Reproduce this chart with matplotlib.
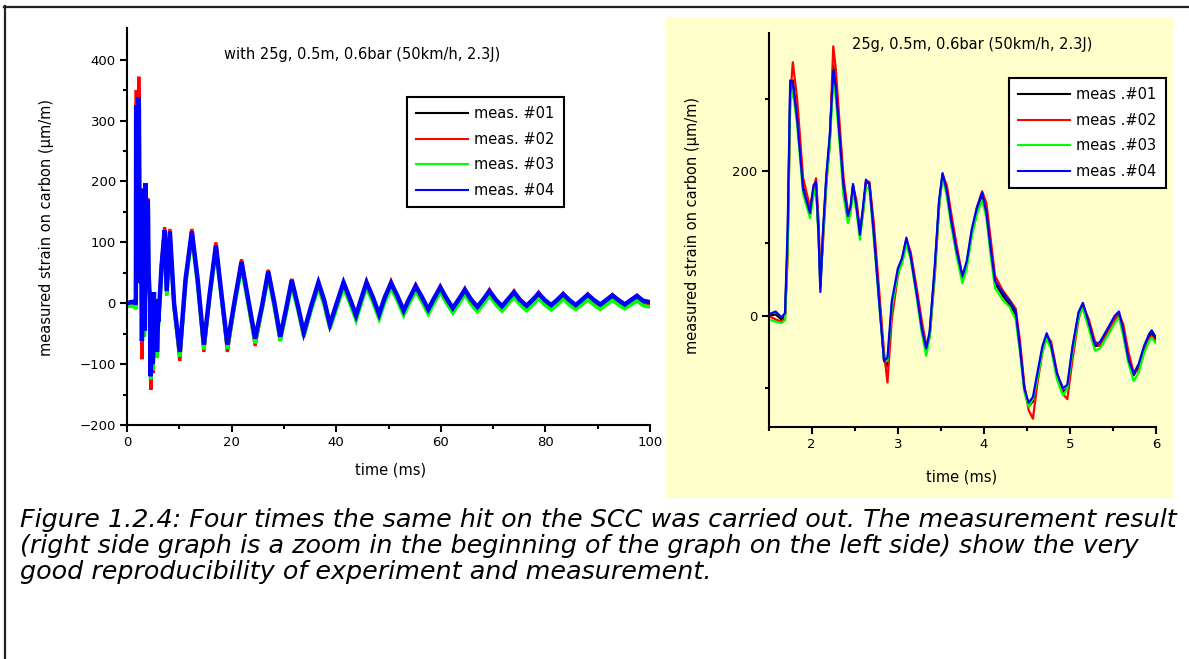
import matplotlib
matplotlib.use("Agg")
import matplotlib.pyplot as plt
from matplotlib.ticker import MultipleLocator, FixedLocator
from matplotlib.lines import Line2D
from matplotlib.patches import Rectangle

# ---------------- data ----------------
series_colors = ["black", "red", "#00ff00", "blue"]
labels_left = ["meas. #01", "meas. #02", "meas. #03", "meas. #04"]
labels_right = ["meas .#01", "meas .#02", "meas .#03", "meas .#04"]
title_left = "with 25g, 0.5m, 0.6bar (50km/h, 2.3J)"
title_right = "25g, 0.5m, 0.6bar (50km/h, 2.3J)"
ylabel_text = "measured strain on carbon (\u00b5m/m)"
xlabel_text = "time (ms)"
caption_lines = [
    "Figure 1.2.4: Four times the same hit on the SCC was carried out. The measurement result",
    "(right side graph is a zoom in the beginning of the graph on the left side) show the very",
    "good reproducibility of experiment and measurement.",
]

# first 6 ms (ms)
t_early = [0.0, 0.8, 1.5, 1.58, 1.65, 1.69, 1.72, 1.75, 1.78, 1.83,
           1.90, 1.98, 2.02, 2.05, 2.08, 2.10, 2.13, 2.17, 2.21, 2.25,
           2.28, 2.33, 2.37, 2.42, 2.45, 2.48, 2.52, 2.56, 2.60, 2.63,
           2.67, 2.72, 2.78, 2.84, 2.88, 2.93, 3.00, 3.05, 3.10, 3.15,
           3.22, 3.28, 3.33, 3.37, 3.43, 3.48, 3.52, 3.57, 3.62, 3.68,
           3.75, 3.80, 3.86, 3.92, 3.98, 4.03, 4.08, 4.13, 4.22, 4.30,
           4.37, 4.42, 4.47, 4.52, 4.57, 4.62, 4.68, 4.73, 4.78, 4.85,
           4.92, 4.97, 5.03, 5.10, 5.15, 5.22, 5.29, 5.35, 5.45, 5.52,
           5.57, 5.62, 5.68, 5.74, 5.80, 5.86, 5.92, 5.95, 6.00]

early_01 = [0, 0, 0, 2, -5, 0, 100, 315, 325, 275,
            178, 140, 175, 182, 112, 40, 110, 190, 245, 345,
            318, 240, 178, 138, 146, 180, 152, 114, 150, 185,
            182, 118, 28, -62, -70, 15, 60, 78, 104, 82,
            32, -18, -48, -25, 64, 156, 195, 170, 130, 90,
            52, 70, 115, 145, 165, 140, 90, 45, 28, 15,
            2, -45, -100, -125, -118, -85, -46, -28, -42, -84,
            -105, -100, -46, 2, 14, -12, -42, -40, -18, -4,
            2, -22, -62, -82, -70, -46, -28, -24, -33]
early_02 = [0, 0, 0, -5, -8, -3, 80, 300, 350, 300,
            190, 150, 175, 190, 130, 50, 100, 180, 240, 372,
            340, 255, 190, 145, 148, 178, 160, 118, 145, 185,
            185, 130, 40, -50, -92, -5, 55, 78, 105, 88,
            38, -8, -40, -30, 55, 150, 195, 180, 142, 100,
            55, 70, 115, 150, 172, 155, 105, 55, 35, 22,
            10, -35, -95, -130, -142, -95, -50, -28, -35, -78,
            -108, -115, -60, -5, 15, -5, -35, -42, -20, -5,
            3, -12, -50, -78, -75, -50, -32, -28, -35]
early_03 = [-5, -5, -5, -8, -10, -6, 90, 295, 310, 265,
            168, 135, 165, 178, 105, 45, 105, 185, 235, 325,
            300, 228, 165, 128, 140, 172, 145, 105, 145, 178,
            175, 108, 22, -60, -62, 10, 58, 72, 98, 78,
            25, -25, -55, -30, 60, 150, 192, 165, 125, 85,
            45, 65, 110, 140, 160, 135, 82, 38, 22, 12,
            -5, -50, -105, -125, -115, -88, -50, -32, -45, -88,
            -110, -100, -50, -2, 10, -18, -48, -45, -25, -10,
            -2, -28, -65, -90, -78, -52, -35, -30, -38]
early_04 = [0, 2, 2, 6, -2, 4, 120, 325, 322, 272,
            175, 142, 180, 185, 110, 33, 115, 195, 250, 338,
            315, 238, 178, 138, 150, 182, 150, 112, 155, 188,
            182, 115, 25, -62, -58, 20, 65, 80, 108, 82,
            30, -18, -45, -22, 70, 160, 197, 172, 132, 92,
            55, 75, 120, 150, 170, 142, 92, 48, 32, 20,
            6, -45, -100, -120, -112, -80, -42, -24, -40, -80,
            -100, -95, -42, 5, 18, -10, -40, -36, -15, 0,
            6, -20, -60, -80, -66, -42, -25, -20, -30]

# 6 ms to 100 ms (turning points of the decaying oscillation)
t_late = [6.6, 7.2, 7.6, 8.2, 9.0, 10.1, 11.2, 12.4, 13.5, 14.7,
          15.8, 17.0, 18.0, 19.2, 20.5, 21.9, 23.2, 24.5, 25.8, 27.0,
          28.2, 29.3, 30.4, 31.5, 32.7, 33.8, 35.2, 36.6, 37.7, 38.8,
          40.1, 41.4, 42.6, 43.8, 44.8, 45.8, 47.0, 48.2, 49.3, 50.5,
          51.7, 52.9, 54.0, 55.2, 56.4, 57.6, 58.7, 59.9, 61.1, 62.3,
          63.4, 64.6, 65.8, 67.0, 68.1, 69.3, 70.5, 71.7, 72.8, 74.0,
          75.2, 76.4, 77.5, 78.7, 79.9, 81.1, 82.2, 83.4, 84.6, 85.8,
          86.9, 88.1, 89.3, 90.5, 91.6, 92.8, 94.0, 95.2, 96.3, 97.5,
          98.7, 99.9]

late_01 = [58, 115, 15, 115, -3, -82, 36, 114, 36, -70,
           12, 92, 16, -70, -3, 65, 2, -60, -8, 50,
           -3, -57, -12, 36, -8, -50, -8, 32, 2, -36,
           -3, 32, 5, -22, 5, 32, 7, -20, 7, 31,
           9, -14, 5, 26, 7, -12, 5, 24, 5, -10,
           3, 20, 3, -8, 3, 18, 3, -7, 3, 16,
           2, -6, 2, 14, 2, -5, 2, 13, 2, -5,
           2, 12, 2, -4, 2, 11, 2, -4, 2, 10,
           1, -1]
late_02 = [65, 125, 15, 122, -5, -95, 35, 122, 35, -80,
           10, 100, 15, -80, -5, 72, 0, -70, -10, 55,
           -5, -62, -15, 40, -10, -55, -10, 36, 0, -40,
           -5, 36, 5, -25, 5, 36, 8, -24, 8, 36,
           10, -16, 6, 30, 8, -14, 6, 28, 6, -12,
           4, 24, 4, -10, 4, 22, 4, -9, 4, 20,
           3, -8, 3, 18, 3, -7, 3, 16, 3, -7,
           3, 15, 3, -6, 3, 14, 3, -6, 3, 13,
           2, -2]
late_03 = [50, 105, 12, 108, -8, -88, 30, 108, 30, -76,
           8, 85, 12, -75, -8, 58, -3, -66, -12, 42,
           -8, -62, -18, 28, -12, -55, -12, 25, -3, -42,
           -8, 25, 0, -28, 0, 25, 2, -26, 2, 25,
           4, -20, 0, 20, 2, -18, 0, 18, 0, -16,
           -2, 14, -2, -14, -2, 12, -2, -13, -2, 10,
           -3, -12, -3, 8, -3, -11, -3, 7, -3, -10,
           -3, 6, -3, -10, -3, 5, -3, -9, -3, 4,
           -4, -6]
late_04 = [60, 120, 20, 118, 0, -80, 40, 118, 40, -68,
           15, 95, 20, -68, 0, 68, 5, -58, -5, 52,
           0, -55, -10, 38, -5, -48, -5, 34, 5, -35,
           0, 34, 8, -20, 8, 34, 10, -18, 10, 33,
           12, -12, 8, 28, 10, -10, 8, 26, 8, -8,
           6, 22, 6, -6, 6, 20, 6, -5, 6, 18,
           5, -4, 5, 16, 5, -3, 5, 15, 5, -3,
           5, 14, 5, -2, 5, 13, 5, -2, 5, 12,
           4, 2]

early_series = [early_01, early_02, early_03, early_04]
late_series = [late_01, late_02, late_03, late_04]

# ---------------- figure ----------------
W, H = 1189, 659
fig = plt.figure(figsize=(W / 100, H / 100), dpi=100)
fig.patch.set_facecolor("white")


def fx(px):
    return px / W


def fy(py):
    return 1 - py / H


# outer frame (top + left lines)
fig.add_artist(Line2D([fx(4), 1.0], [fy(6.5), fy(6.5)], color="#222222", lw=1.6))
fig.add_artist(Line2D([fx(4.5), fx(4.5)], [fy(6), 0.0], color="#222222", lw=1.6))

# yellow background panel for the zoom graph
fig.add_artist(Rectangle((fx(666), fy(498)), fx(1173 - 666), (498 - 17) / H,
                         facecolor="#ffffcc", edgecolor="none", zorder=0))

TICK_FS = 9.5
LABEL_FS = 10.5


def style_axes(ax):
    for s in ["top", "right"]:
        ax.spines[s].set_visible(False)
    for s in ["left", "bottom"]:
        ax.spines[s].set_linewidth(1.5)
        ax.spines[s].set_color("black")
    ax.tick_params(which="major", direction="out", length=5, width=1.5,
                   labelsize=TICK_FS, pad=3)
    ax.tick_params(which="minor", direction="out", length=3, width=1.5)
    ax.patch.set_alpha(0)


# ---------- left axes ----------
axL = fig.add_axes([fx(127), fy(425), fx(650 - 127), (425 - 28) / H])
style_axes(axL)
widths_left = [2.2, 2.4, 2.6, 3.2]
for i in range(4):
    tt = t_early + t_late
    vv = early_series[i] + late_series[i]
    axL.plot(tt, vv, color=series_colors[i], lw=widths_left[i], solid_joinstyle="miter")
axL.set_xlim(0, 100)
axL.set_ylim(-200, 452)
axL.xaxis.set_major_locator(FixedLocator([0, 20, 40, 60, 80, 100]))
axL.xaxis.set_minor_locator(MultipleLocator(10))
axL.yaxis.set_major_locator(FixedLocator([-200, -100, 0, 100, 200, 300, 400]))
axL.yaxis.set_minor_locator(FixedLocator([-150, -50, 50, 150, 250, 350]))

# ---------- right axes ----------
axR = fig.add_axes([fx(768.7), fy(426.7), fx(1156 - 768.7), (426.7 - 33.3) / H])
style_axes(axR)
for i in range(4):
    axR.plot(t_early, early_series[i], color=series_colors[i], lw=1.6)
axR.set_xlim(1.5, 6)
axR.set_ylim(-153, 390)
axR.xaxis.set_major_locator(FixedLocator([2, 3, 4, 5, 6]))
axR.xaxis.set_minor_locator(FixedLocator([1.5, 2.5, 3.5, 4.5, 5.5]))
axR.yaxis.set_major_locator(FixedLocator([0, 200]))
axR.yaxis.set_minor_locator(FixedLocator([-100, 100, 300]))

# ---------- texts ----------
fig.text(fx(224), fy(55), title_left, ha="left", va="center", fontsize=LABEL_FS)
fig.text(fx(852), fy(45), title_right, ha="left", va="center", fontsize=LABEL_FS)
fig.text(fx(391), fy(470), xlabel_text, ha="center", va="center", fontsize=LABEL_FS)
fig.text(fx(962), fy(477), xlabel_text, ha="center", va="center", fontsize=LABEL_FS)
fig.text(fx(47), fy(227), ylabel_text, ha="center", va="center", rotation=90,
         fontsize=LABEL_FS)
fig.text(fx(693), fy(225), ylabel_text, ha="center", va="center", rotation=90,
         fontsize=LABEL_FS)

# ---------- legends ----------
handles = [Line2D([], [], color=c, lw=1.5) for c in series_colors]
leg_kw = dict(loc="upper left", fontsize=10.5, frameon=True, fancybox=False,
              framealpha=1, edgecolor="black", facecolor="white",
              handlelength=3.5, handletextpad=0.45, labelspacing=0.72,
              borderpad=0.65, borderaxespad=0)
legL = fig.legend(handles, labels_left, bbox_to_anchor=(fx(407), fy(97)), **leg_kw)
legL.get_frame().set_linewidth(1.5)
legR = fig.legend(handles, labels_right, bbox_to_anchor=(fx(1009), fy(78)), **leg_kw)
legR.get_frame().set_linewidth(1.5)

# ---------- caption ----------
for k, line in enumerate(caption_lines):
    fig.text(fx(20), fy(520 + 26 * k), line, ha="left", va="center",
             fontsize=18.3, style="italic", family="DejaVu Sans")

fig.savefig("out.png", dpi=100, facecolor="white")
